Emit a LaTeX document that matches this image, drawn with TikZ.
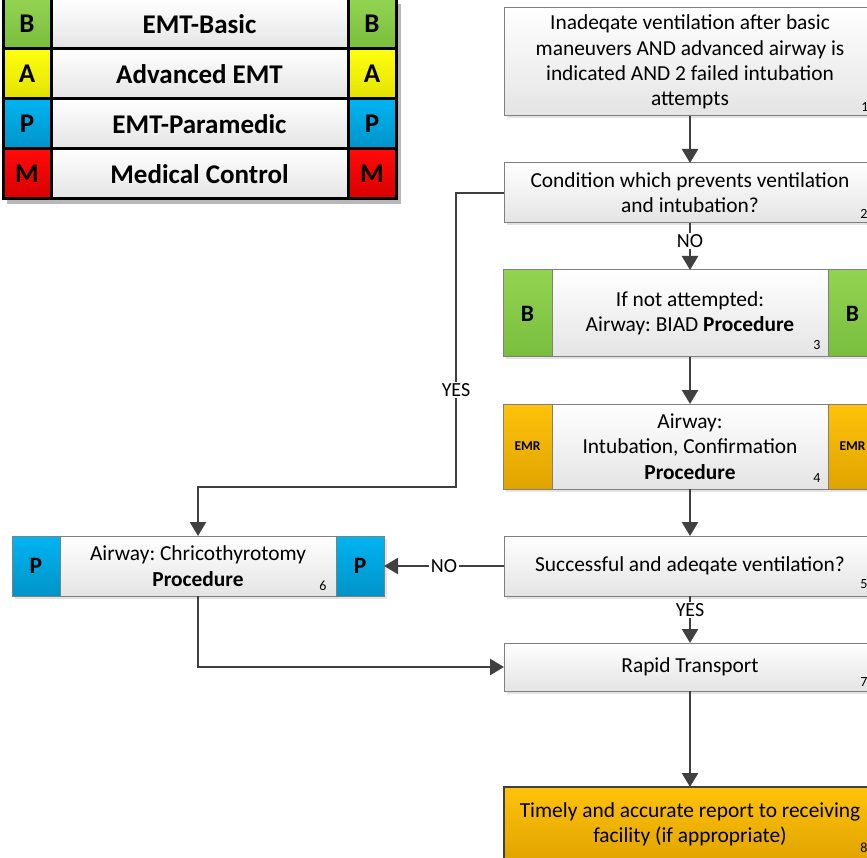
\documentclass[tikz,border=0pt]{standalone}
\usepackage{fontspec}
\setmainfont{Carlito}
\frenchspacing
\usetikzlibrary{arrows.meta,shadows,calc}
\definecolor{gTop}{HTML}{94D352}
\definecolor{gBot}{HTML}{78BE3C}
\definecolor{yTop}{HTML}{FFFF10}
\definecolor{yBot}{HTML}{E2E200}
\definecolor{bTop}{HTML}{00B4F2}
\definecolor{bBot}{HTML}{0094C8}
\definecolor{rTop}{HTML}{FF0A0A}
\definecolor{rBot}{HTML}{D80000}
\definecolor{oTop}{HTML}{FFC20A}
\definecolor{oBot}{HTML}{E0A400}
\definecolor{wBot}{HTML}{E4E4E4}
\definecolor{boxgray}{HTML}{7F7F7F}
\definecolor{linegray}{HTML}{404040}
\tikzset{
  shad/.style={drop shadow={opacity=0.22, shadow xshift=2.5pt, shadow yshift=-2.5pt}},
  base/.style={draw=boxgray, line width=1pt, inner sep=2pt, outer sep=0pt, align=center,
    font=\fontsize{21.4}{25.3}\selectfont, shad},
  wbox/.style={base, top color=white, bottom color=wBot},
  obox/.style={base, draw=linegray, line width=1.6pt, top color=oTop, bottom color=oBot},
  blk/.style={base, font=\fontsize{23.5}{26}\selectfont\bfseries},
  grn/.style={blk, top color=gTop, bottom color=gBot},
  blu/.style={blk, top color=bTop, bottom color=bBot},
  emr/.style={blk, top color=oTop, bottom color=oBot, font=\fontsize{13.5}{15}\selectfont\bfseries},
  num/.style={inner sep=0pt, font=\fontsize{14}{16}\selectfont},
  lbl/.style={fill=white, inner sep=1.5pt, font=\fontsize{20}{24}\selectfont},
  conn/.style={draw=linegray, line width=2.5pt, -{Triangle[width=16pt,length=14pt]}},
  legc/.style={draw=black, line width=3pt, minimum width=48pt, minimum height=50pt, inner sep=0pt, outer sep=0pt,
    font=\fontsize{27}{28}\selectfont\bfseries},
  legm/.style={legc, minimum width=297pt, top color=white, bottom color=wBot}
}
\begin{document}
\begin{tikzpicture}[x=1pt,y=-1pt]
\useasboundingbox (0,0) rectangle (867,858);
\clip (0,0) rectangle (867,858);
\fill[white] (0,0) rectangle (867,858);

% legend
\fill[black!28] (7,4) rectangle (401,204);
\foreach \yy/\nm/\txt/\tc/\bc/\lt in {24/lb/EMT-Basic/gTop/gBot/B, 74/la/Advanced EMT/yTop/yBot/A, 124/lp/EMT-Paramedic/bTop/bBot/P, 174/lm/Medical Control/rTop/rBot/M}{
  \node[legc, top color=\tc, bottom color=\bc] (\nm L) at (27,\yy) {\lt};
  \node[legm] (\nm T) at (199.5,\yy) {\txt};
  \node[legc, top color=\tc, bottom color=\bc] (\nm R) at (372,\yy) {\lt};
}

% box 1
\node[wbox, minimum width=372pt, minimum height=108pt] (b1) at (690,62)
  {Inadeqate ventilation after basic\\maneuvers AND advanced airway is\\indicated AND 2 failed intubation\\attempts};
\node[num] at ($(b1.south east)+(-11,-9)$) {1};

% box 2
\node[wbox, minimum width=372pt, minimum height=60pt] (b2) at (690,193)
  {Condition which prevents ventilation\\and intubation?};
\node[num] at ($(b2.south east)+(-12,-9)$) {2};

% box 3
\node[grn, minimum width=49pt, minimum height=87pt] (b3L) at (527.5,313.5) {B};
\node[wbox, minimum width=276pt, minimum height=87pt] (b3) at (690,313.5)
  {If not attempted:\\Airway: BIAD \textbf{Procedure}};
\node[grn, minimum width=49pt, minimum height=87pt] (b3R) at (852.5,313.5) {B};
\node[num] at ($(b3.south east)+(-11,-12)$) {3};

% box 4
\node[emr, minimum width=49pt, minimum height=85pt] (b4L) at (527.5,446.5) {EMR};
\node[wbox, minimum width=276pt, minimum height=85pt] (b4) at (690,446.5)
  {Airway:\\Intubation, Confirmation\\\textbf{Procedure}};
\node[emr, minimum width=49pt, minimum height=85pt] (b4R) at (852.5,446.5) {EMR};
\node[num] at ($(b4.south east)+(-11,-11)$) {4};

% box 5
\node[wbox, minimum width=372pt, minimum height=60pt] (b5) at (690,566)
  {Successful and adeqate ventilation?};
\node[num] at ($(b5.south east)+(-12,-12)$) {5};

% box 6
\node[blu, minimum width=48pt, minimum height=60pt] (b6L) at (36,566) {P};
\node[wbox, minimum width=276pt, minimum height=60pt] (b6) at (198,566)
  {Airway: Chricothyrotomy\\\textbf{Procedure}};
\node[blu, minimum width=48pt, minimum height=60pt] (b6R) at (360,566) {P};
\node[num] at ($(b6.south east)+(-13,-10)$) {6};

% box 7
\node[wbox, minimum width=372pt, minimum height=48pt] (b7) at (690,667) {Rapid Transport};
\node[num] at ($(b7.south east)+(-12,-9)$) {7};

% box 8
\node[obox, minimum width=372pt, minimum height=74pt] (b8) at (690,824)
  {Timely and accurate report to receiving\\facility (if appropriate)};
\node[num] at ($(b8.south east)+(-12,-13)$) {8};

% connectors
\coordinate (j1) at (456,487);
\draw[conn] (b1.south) -- (b2.north);
\draw[conn] (b2.south) -- node[lbl, pos=0.38] {NO} (b3.north);
\draw[conn] (b3.south) -- (b4.north);
\draw[conn] (b4.south) -- (b5.north);
\draw[conn] (b5.south) -- node[lbl, pos=0.3] {YES} (b7.north);
\draw[conn] (b7.south) -- (b8.north);
\draw[conn] (b2.west) -| node[lbl, pos=0.835] {YES} (j1) -| (b6.north);
\draw[conn] (b5.west) -- node[lbl] {NO} (b6R.east);
\draw[conn] (b6.south) |- (b7.west);
\end{tikzpicture}
\end{document}
